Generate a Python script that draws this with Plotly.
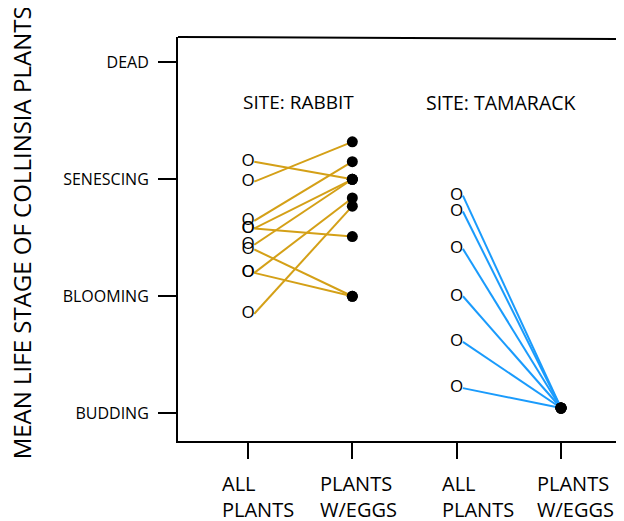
import plotly.graph_objects as go

# life stage scale
stage_labels = ["BUDDING", "BLOOMING", "SENESCING", "DEAD"]
stage_values = [1, 2, 3, 4]

# x groups
group_pos = [1, 2, 3, 4]
group_labels = ["ALL<br>PLANTS", "PLANTS<br>W/EGGS", "ALL<br>PLANTS", "PLANTS<br>W/EGGS"]
site_names = ["SITE: RABBIT", "SITE: TAMARACK"]

# mean life stage per plant (all plants -> plants with eggs)
rabbit_all = [3.15, 2.98, 2.645, 2.58, 2.58, 2.44, 2.40, 2.20, 2.20, 1.85]
rabbit_eggs = [3.00, 3.32, 3.15, 3.00, 2.51, 3.00, 2.00, 2.84, 2.00, 2.77]
tamarack_all = [2.86, 2.725, 2.405, 2.00, 1.61, 1.215]
tamarack_eggs = [1.045, 1.045, 1.045, 1.045, 1.045, 1.045]

FONT = "Open Sans"
GOLD = "#D4A017"
BLUE = "#1A9BFC"
off = 0.06  # lines start just right of the "O"


def seg(x0, x1, ys0, ys1):
    xs, ys = [], []
    for a, b in zip(ys0, ys1):
        xs += [x0 + off, x1, None]
        ys += [a, b, None]
    return xs, ys


fig = go.Figure()

for x0, x1, a, b, col in [(1, 2, rabbit_all, rabbit_eggs, GOLD),
                          (3, 4, tamarack_all, tamarack_eggs, BLUE)]:
    xs, ys = seg(x0, x1, a, b)
    fig.add_trace(go.Scatter(x=xs, y=ys, mode="lines",
                             line=dict(color=col, width=2), hoverinfo="skip"))
    fig.add_trace(go.Scatter(x=[x0] * len(a), y=a, mode="text", text=["O"] * len(a),
                             textfont=dict(family=FONT, size=17, color="black")))
    fig.add_trace(go.Scatter(x=[x1] * len(b), y=b, mode="markers",
                             marker=dict(color="black", size=11)))

# site labels
fig.add_annotation(x=1.5, y=3.66, text=site_names[0], showarrow=False,
                   font=dict(family=FONT, size=19, color="black"), xshift=-2)
fig.add_annotation(x=3.5, y=3.66, text=site_names[1], showarrow=False,
                   font=dict(family=FONT, size=19.5, color="black"), xshift=-8)

# x category labels (left aligned, hand placed)
shifts = [-28, -34, -17, -26]
for p, lab, s in zip(group_pos, group_labels, shifts):
    fig.add_annotation(x=p, y=-0.067, xref="x", yref="paper", text=lab,
                       showarrow=False, xanchor="left", yanchor="top", align="left",
                       xshift=s, font=dict(family=FONT, size=20, color="black"))

# y title
fig.add_annotation(x=-0.352, y=0.514, xref="paper", yref="paper",
                   xanchor="center", yanchor="middle",
                   text="MEAN LIFE STAGE OF COLLINSIA PLANTS", textangle=-90,
                   showarrow=False, font=dict(family=FONT, size=24, color="black"))

# slightly tilted top border
fig.add_shape(type="line", xref="paper", yref="paper", x0=0, y0=1, x1=1, y1=0.995,
              line=dict(color="black", width=2))

fig.update_layout(
    width=624, height=521,
    margin=dict(l=170, r=8, t=29, b=88),
    plot_bgcolor="white", paper_bgcolor="white",
    showlegend=False,
    font=dict(family=FONT, color="black"),
    xaxis=dict(range=[0.329, 4.604], showline=True, linecolor="black", linewidth=2,
               ticks="outside", ticklen=16, tickwidth=2, tickcolor="black",
               tickvals=group_pos, showticklabels=False,
               showgrid=False, zeroline=False, fixedrange=True),
    yaxis=dict(range=[0.763, 4.216], showline=True, linecolor="black", linewidth=2,
               ticks="outside", ticklen=18, tickwidth=2, tickcolor="black",
               tickvals=stage_values, ticktext=stage_labels,
               tickfont=dict(family=FONT, size=16, color="black"),
               ticklabelstandoff=6,
               showgrid=False, zeroline=False, fixedrange=True),
)

fig.write_html("out.html")
